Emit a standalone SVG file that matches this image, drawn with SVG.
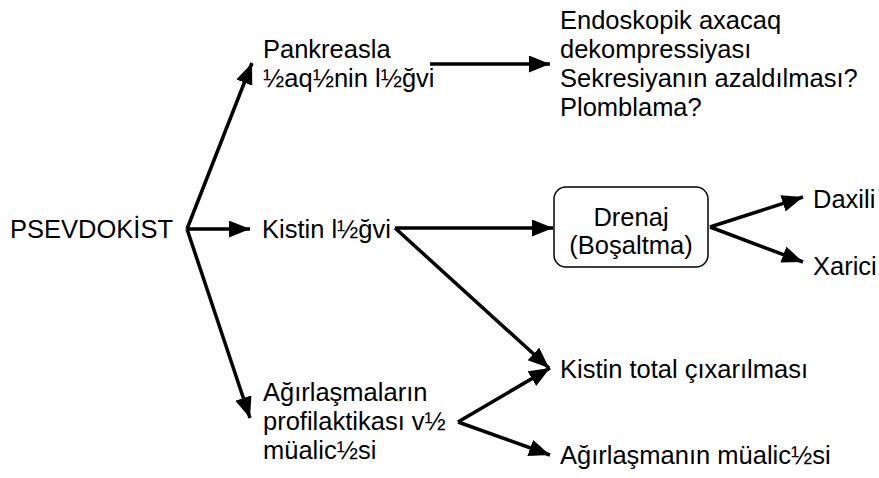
<svg xmlns="http://www.w3.org/2000/svg" width="879" height="478" viewBox="0 0 879 478">
<style>
text{font-family:"Liberation Sans",Arial,sans-serif;font-size:25.5px;fill:#000}
.c{stroke:#000;stroke-width:3.5;fill:none;marker-end:url(#ah)}
.box{fill:#fff;stroke:#000;stroke-width:1.5}
</style>
<defs>
<marker id="ah" markerUnits="userSpaceOnUse" markerWidth="24" markerHeight="18" refX="21" refY="8.5" orient="auto">
<path d="M0,0 L21,8.5 L0,17 Z" fill="#000"/>
</marker>
</defs>
<rect width="879" height="478" fill="#fff"/>
<g id="connectors">
<path class="c" d="M187,229 L252,63"/>
<path class="c" d="M187,229 L250,229"/>
<path class="c" d="M187,229 L250,418"/>
<path class="c" d="M430,64 L550,64"/>
<path class="c" d="M395,228 L553,228"/>
<path class="c" d="M395,228 L549,368"/>
<path class="c" d="M710,227 L803,197"/>
<path class="c" d="M710,227 L803,262"/>
<path class="c" d="M458,422 L550,368"/>
<path class="c" d="M458,422 L550,455"/>
</g>
<g id="psevdokist"><text x="10" y="238">PSEVDOKİST</text></g>
<g id="pankreasla"><text x="263" y="58">Pankreasla</text><text x="263" y="87">½aq½nin l½ğvi</text></g>
<g id="endoskopik"><text x="560" y="29">Endoskopik axacaq</text><text x="560" y="58">dekompressiyası</text><text x="560" y="87">Sekresiyanın azaldılması?</text><text x="560" y="116">Plomblama?</text></g>
<g id="kistin-legvi"><text x="262" y="238">Kistin l½ğvi</text></g>
<g id="drenaj"><rect class="box" x="554" y="187" width="154" height="80" rx="12"/><text x="631" y="226" text-anchor="middle">Drenaj</text><text x="631" y="254" text-anchor="middle">(Boşaltma)</text></g>
<g id="daxili"><text x="813" y="208">Daxili</text></g>
<g id="xarici"><text x="813" y="275">Xarici</text></g>
<g id="agirlasmalarin"><text x="263" y="401">Ağırlaşmaların</text><text x="263" y="430">profilaktikası v½</text><text x="263" y="459">müalic½si</text></g>
<g id="kistin-total"><text x="560" y="378">Kistin total çıxarılması</text></g>
<g id="agirlasmanin"><text x="560" y="464">Ağırlaşmanın müalic½si</text></g>
</svg>
